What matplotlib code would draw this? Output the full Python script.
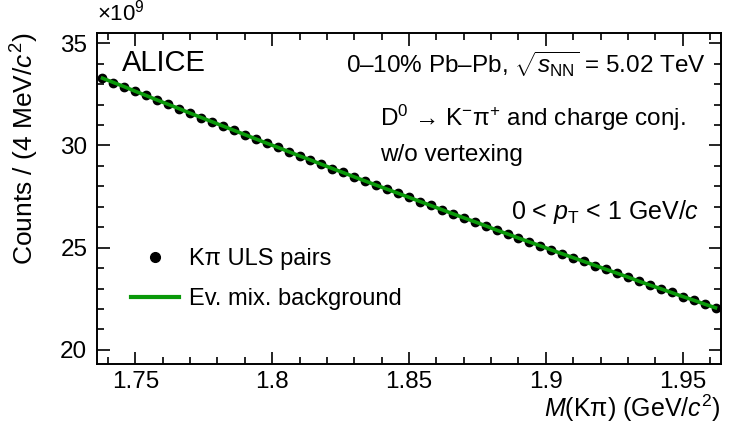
import matplotlib
matplotlib.use("Agg")
import matplotlib.pyplot as plt
from matplotlib.ticker import MultipleLocator
from matplotlib.lines import Line2D

plt.rcParams["font.family"] = ["Liberation Sans", "DejaVu Sans"]
plt.rcParams["mathtext.fontset"] = "custom"
plt.rcParams["mathtext.rm"] = "Liberation Sans"
plt.rcParams["mathtext.it"] = "Liberation Sans:italic"
plt.rcParams["mathtext.bf"] = "Liberation Sans:bold"

# invariant mass bin centres (GeV/c^2), 4 MeV bins
mass = [1.738, 1.742, 1.746, 1.750, 1.754, 1.758, 1.762, 1.766, 1.770, 1.774,
        1.778, 1.782, 1.786, 1.790, 1.794, 1.798, 1.802, 1.806, 1.810, 1.814,
        1.818, 1.822, 1.826, 1.830, 1.834, 1.838, 1.842, 1.846, 1.850, 1.854,
        1.858, 1.862, 1.866, 1.870, 1.874, 1.878, 1.882, 1.886, 1.890, 1.894,
        1.898, 1.902, 1.906, 1.910, 1.914, 1.918, 1.922, 1.926, 1.930, 1.934,
        1.938, 1.942, 1.946, 1.950, 1.954, 1.958, 1.962]

# K-pi unlike-sign pairs (x 1e9 counts)
uls_counts = [33.30, 33.07, 32.88, 32.64, 32.45, 32.21, 32.02, 31.79, 31.59, 31.36,
              31.17, 30.94, 30.75, 30.52, 30.33, 30.10, 29.92, 29.69, 29.50, 29.28,
              29.09, 28.86, 28.68, 28.45, 28.27, 28.05, 27.87, 27.65, 27.47, 27.25,
              27.07, 26.85, 26.67, 26.45, 26.28, 26.06, 25.87, 25.66, 25.48, 25.27,
              25.10, 24.88, 24.71, 24.50, 24.33, 24.12, 23.95, 23.74, 23.57, 23.35,
              23.18, 22.98, 22.81, 22.60, 22.44, 22.23, 22.07]

# event-mixing background (x 1e9 counts)
bkg_counts = [33.29, 33.08, 32.87, 32.65, 32.44, 32.22, 32.01, 31.80, 31.58, 31.37,
              31.16, 30.95, 30.74, 30.53, 30.32, 30.11, 29.91, 29.70, 29.49, 29.29,
              29.08, 28.87, 28.67, 28.46, 28.26, 28.06, 27.86, 27.66, 27.46, 27.26,
              27.06, 26.86, 26.66, 26.46, 26.27, 26.07, 25.86, 25.67, 25.47, 25.28,
              25.09, 24.89, 24.70, 24.51, 24.32, 24.13, 23.94, 23.75, 23.56, 23.36,
              23.17, 22.99, 22.80, 22.61, 22.43, 22.24, 22.06]

green = "#0a990a"

fig = plt.figure(figsize=(7.29, 4.23), dpi=100)
ax = fig.add_axes([97 / 729, 1 - 364 / 423, 624 / 729, 331 / 423])

ax.plot(mass, uls_counts, "o", color="black", ms=6, zorder=2)
ax.plot(mass, bkg_counts, "-", color=green, lw=2.6, zorder=3)

ax.set_xlim(1.736, 1.964)
ax.set_ylim(19.31, 35.5)

ax.xaxis.set_major_locator(MultipleLocator(0.05))
ax.xaxis.set_minor_locator(MultipleLocator(0.01))
ax.yaxis.set_major_locator(MultipleLocator(5))
ax.yaxis.set_minor_locator(MultipleLocator(1))
ax.set_xticks([1.75, 1.8, 1.85, 1.9, 1.95])
ax.set_xticklabels(["1.75", "1.8", "1.85", "1.9", "1.95"])
ax.tick_params(which="both", direction="in", top=True, right=True,
               labelsize=17.5, colors="black", width=1.2)
ax.tick_params(which="major", length=9)
ax.tick_params(which="minor", length=5)
ax.tick_params(axis="x", pad=5)
ax.tick_params(axis="y", pad=7)
for s in ax.spines.values():
    s.set_linewidth(1.4)

ax.set_xlabel("$M$(K\u03c0) (GeV/$c^2$)", fontsize=18, loc="right", labelpad=0)
ax.set_ylabel("Counts / (4 MeV/$c^2$)", fontsize=19, loc="top", labelpad=14)

fig.text(97 / 729, 1 - 13 / 423, "$\\times$10$^9$", fontsize=16, ha="left", va="center")

ax.text(0.04, 0.91, "ALICE", transform=ax.transAxes, fontsize=21, ha="left", va="center")
ax.text(0.976, 0.905, "0\u201310% Pb\u2013Pb, $\\sqrt{s_{\\rm NN}}$ = 5.02 TeV",
        transform=ax.transAxes, fontsize=17.5, ha="right", va="center")
ax.text(0.453, 0.745, "D$^0$ \u2192 K$^{-}$\u03c0$^{+}$ and charge conj.",
        transform=ax.transAxes, fontsize=17.5, ha="left", va="center")
ax.text(0.453, 0.63, "w/o vertexing", transform=ax.transAxes, fontsize=17.5,
        ha="left", va="center")
ax.text(0.965, 0.46, "0 < $p_{\\rm T}$ < 1 GeV/$c$", transform=ax.transAxes,
        fontsize=18, ha="right", va="center")

handles = [Line2D([], [], marker="o", color="black", ls="none", ms=7),
           Line2D([], [], color=green, lw=3)]
ax.legend(handles, ["K\u03c0 ULS pairs", "Ev. mix. background"],
          loc="upper left", bbox_to_anchor=(0.04, 0.378), frameon=False,
          fontsize=17, handlelength=2.0, handletextpad=0.45, labelspacing=0.75,
          borderaxespad=0)

fig.savefig("out.png", dpi=100)
